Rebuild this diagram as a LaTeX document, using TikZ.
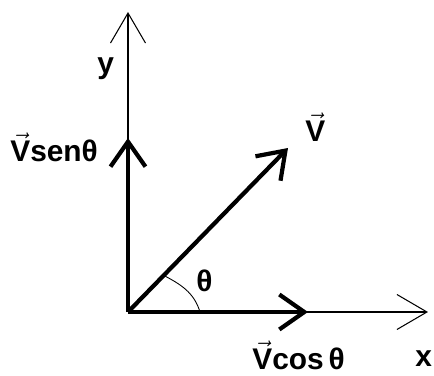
\documentclass[tikz,border=0pt]{standalone}
\usepackage{fontspec}
\setmainfont{Liberation Sans}
\usetikzlibrary{arrows.meta, positioning}
\newcommand{\vetV}{$\vec{\textbf{V}}$}

\begin{document}
\begin{tikzpicture}[x=0.02cm, y=0.02cm,
  eixo/.style={line width=0.6pt, -{Straight Barb[length=0.6cm, width=0.7cm]}},
  vetor/.style={line width=2.4pt, -{Straight Barb[length=0.5cm, width=0.7cm]}},
  rotulo/.style={font=\bfseries\fontsize{17}{20}\selectfont, inner sep=0pt, anchor=base west}]
  \useasboundingbox (-128,-64) rectangle (306,312);
  % eixos
  \coordinate (O) at (0,0);
  \coordinate (xfim) at (300,0);
  \coordinate (yfim) at (0,300);
  \draw[eixo] (O) -- (xfim);
  \draw[eixo] (O) -- (yfim);
  % componentes e vetor
  \coordinate (Vx) at (180,0);
  \coordinate (Vy) at (0,174);
  \coordinate (V) at (160,164);
  \draw[vetor] (O) -- (Vx);
  \draw[vetor] (O) -- (Vy);
  \draw[vetor] (O) -- (V);
  % angulo
  \draw[line width=0.5pt] (72,0) .. controls (66,20) and (52,28) .. (35,37);
  % rotulos
  \node[rotulo] (ly) at (-31,238) {y};
  \node[rotulo] (lx) at (287,-55) {x};
  \node[rotulo] (lV) at (177,170) {\vetV};
  \node[rotulo] (lsen) at (-118,150) {\vetV senθ};
  \node[rotulo] (lcos) at (124,-58) {\vetV cos\,θ};
  \node[rotulo] (lth) at (68,20) {θ};
\end{tikzpicture}
\end{document}
